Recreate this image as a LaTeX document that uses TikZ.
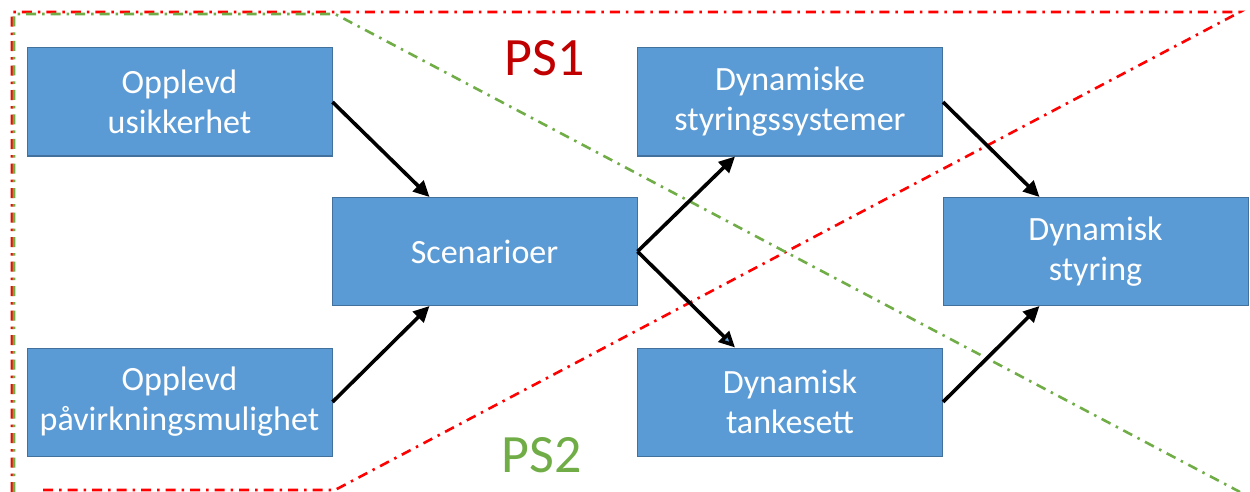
\documentclass[tikz,border=0pt]{standalone}
\usepackage{fontspec}
\setmainfont{Carlito}
\usetikzlibrary{arrows.meta,calc}
\definecolor{boxblue}{HTML}{5B9BD5}
\definecolor{boxedge}{HTML}{41719C}
\definecolor{psred}{HTML}{C00000}
\definecolor{psgreen}{HTML}{70AD47}
\definecolor{linered}{HTML}{FF0000}
\definecolor{linegreen}{HTML}{70AD47}
\tikzset{
  blockbox/.style={draw=boxedge, line width=1pt, fill=boxblue, text=white,
    minimum width=305pt, minimum height=108pt, inner sep=0pt, align=center,
    font=\fontsize{34}{40}\selectfont},
  conn/.style={line width=3.6pt, -{Triangle[length=16pt,width=15pt]}},
  dashdotline/.style={line width=2.6pt, dash pattern=on 10pt off 6pt on 2.5pt off 6pt},
  pslabel/.style={font=\fontsize{54}{60}\selectfont, inner sep=0pt}
}
\begin{document}
\begin{tikzpicture}[x=1pt,y=-1pt]
\useasboundingbox (0,0) rectangle (1250,492);
% partition lines
\draw[dashdotline, linered] (43,490) -- (335,490) -- (1240,12) -- (12,12) -- (12,492);
\draw[dashdotline, linegreen] (14,492) -- (14,14) -- (335,14) -- (1240,492);
% boxes
\node[blockbox] (A) at (179.5,102) {Opplevd\\usikkerhet};
\node[blockbox] (B) at (179.5,402) {Opplevd\\påvirkningsmulighet};
\node[blockbox] (S) at (484.5,251.5) {Scenarioer};
\node[blockbox] (D1) at (790,102) {Dynamiske\\styringssystemer};
\node[blockbox] (D2) at (790,402) {Dynamisk\\tankesett};
\node[blockbox] (DS) at (1095.5,251.5) {Dynamisk\\styring};
% labels
\node[pslabel, text=psred] (PS1) at (545,58) {PS1};
\node[pslabel, text=psgreen] (PS2) at (542,455) {PS2};
% connectors
\draw[conn] (A.east) -- ([xshift=98pt]S.north west);
\draw[conn] (B.east) -- ([xshift=98pt]S.south west);
\draw[conn] (S.east) -- ([xshift=98pt]D1.south west);
\draw[conn, -{Triangle[length=16pt,width=15pt,fill=boxblue]}] (S.east) -- ([xshift=98pt]D2.north west);
\draw[conn] (D1.east) -- ([xshift=97pt]DS.north west);
\draw[conn] (D2.east) -- ([xshift=97pt]DS.south west);
\end{tikzpicture}
\end{document}
